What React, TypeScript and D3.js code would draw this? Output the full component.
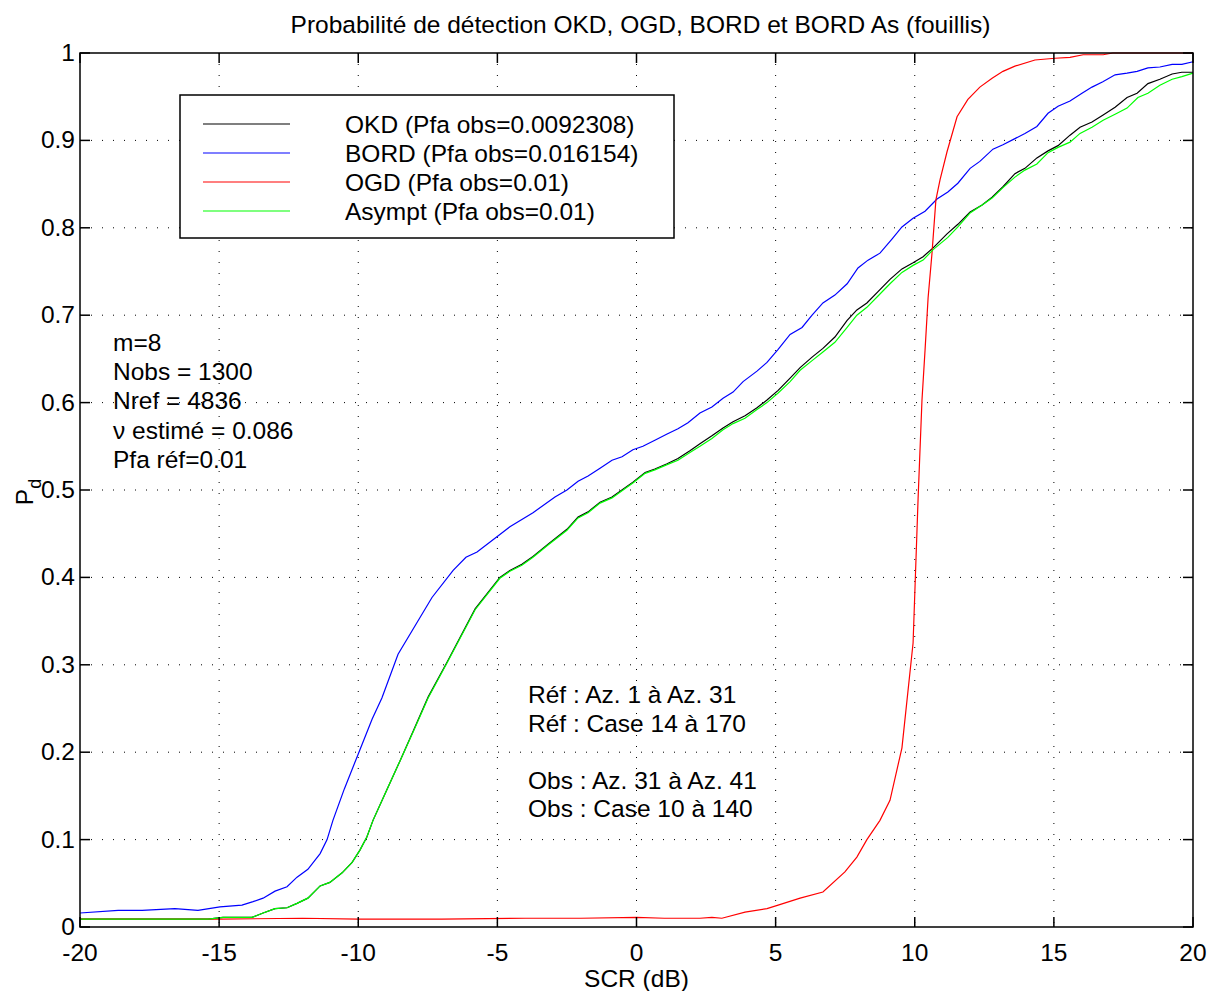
import React from "react";
import * as d3 from "d3";

const title = "Probabilité de détection OKD, OGD, BORD et BORD As (fouillis)";
const xTicks = [-20, -15, -10, -5, 0, 5, 10, 15, 20];
const yTicks = [0, 0.1, 0.2, 0.3, 0.4, 0.5, 0.6, 0.7, 0.8, 0.9, 1];

const bord: [number, number][] = [
  [-20, 0.016], [-18.63, 0.019], [-17.77, 0.019], [-16.59, 0.021], [-15.76, 0.019], [-14.97, 0.023],
  [-14.18, 0.025], [-13.78, 0.029], [-13.42, 0.033], [-12.99, 0.041], [-12.56, 0.046], [-12.2, 0.057],
  [-11.81, 0.066], [-11.37, 0.084], [-11.12, 0.1], [-10.91, 0.122], [-10.5, 0.158], [-10.0, 0.198],
  [-9.5, 0.238], [-9.15, 0.262], [-8.57, 0.312], [-7.35, 0.377], [-6.59, 0.408], [-6.13, 0.423],
  [-5.73, 0.429], [-4.91, 0.449], [-4.55, 0.458], [-3.72, 0.474], [-2.93, 0.492], [-2.5, 0.5],
  [-2.1, 0.51], [-1.74, 0.516], [-1.31, 0.525], [-0.88, 0.534], [-0.52, 0.538], [-0.13, 0.546],
  [0.23, 0.55], [0.66, 0.557], [1.1, 0.564], [1.49, 0.57], [1.85, 0.577], [2.28, 0.588], [2.71, 0.595],
  [3.11, 0.605], [3.47, 0.612], [3.83, 0.624], [4.33, 0.636], [4.69, 0.646], [5.09, 0.661], [5.52, 0.678],
  [5.95, 0.686], [6.31, 0.7], [6.7, 0.714], [7.13, 0.723], [7.57, 0.736], [7.96, 0.754], [8.32, 0.763],
  [8.75, 0.771], [9.18, 0.787], [9.54, 0.801], [9.94, 0.811], [10.37, 0.819], [10.8, 0.833], [11.19, 0.841],
  [11.55, 0.851], [11.99, 0.868], [12.34, 0.876], [12.81, 0.89], [13.17, 0.895], [13.6, 0.902],
  [13.96, 0.908], [14.39, 0.916], [14.79, 0.931], [15.15, 0.939], [15.58, 0.945], [16.01, 0.954],
  [16.37, 0.961], [16.76, 0.967], [17.2, 0.975], [17.63, 0.977], [17.99, 0.979], [18.38, 0.983],
  [18.81, 0.984], [19.25, 0.987], [19.6, 0.987], [20, 0.99],
];

const asympt: [number, number][] = [
  [-20, 0.009], [-15.4, 0.009], [-14.86, 0.011], [-13.82, 0.011], [-13.42, 0.016], [-12.99, 0.021],
  [-12.56, 0.022], [-12.2, 0.027], [-11.81, 0.033], [-11.37, 0.047], [-11.02, 0.051], [-10.58, 0.062],
  [-10.22, 0.074], [-9.94, 0.088], [-9.69, 0.103], [-9.47, 0.122], [-9.0, 0.155], [-8.5, 0.19],
  [-8.0, 0.225], [-7.49, 0.262], [-6.81, 0.302], [-5.8, 0.363], [-4.91, 0.399], [-4.55, 0.407],
  [-4.12, 0.414], [-3.72, 0.423], [-3.18, 0.437], [-2.5, 0.454], [-2.1, 0.468], [-1.74, 0.474],
  [-1.31, 0.485], [-0.88, 0.491], [-0.13, 0.508], [0.31, 0.519], [0.66, 0.523], [1.1, 0.529],
  [1.49, 0.534], [1.92, 0.543], [2.28, 0.55], [2.71, 0.559], [3.11, 0.569], [3.47, 0.576], [3.9, 0.582],
  [4.33, 0.592], [4.69, 0.6], [5.09, 0.611], [5.52, 0.624], [5.88, 0.637], [6.31, 0.648], [6.7, 0.658],
  [7.13, 0.669], [7.57, 0.686], [7.92, 0.7], [8.28, 0.709], [8.68, 0.722], [9.11, 0.736], [9.54, 0.749],
  [9.94, 0.757], [10.3, 0.763], [10.66, 0.775], [11.19, 0.789], [11.55, 0.801], [11.99, 0.817],
  [12.42, 0.826], [12.78, 0.834], [13.17, 0.846], [13.6, 0.858], [13.96, 0.866], [14.39, 0.873],
  [14.79, 0.886], [15.15, 0.892], [15.58, 0.898], [15.94, 0.908], [16.37, 0.915], [16.77, 0.923],
  [17.2, 0.93], [17.63, 0.937], [18.02, 0.949], [18.38, 0.954], [18.81, 0.963], [19.25, 0.97],
  [19.6, 0.973], [20, 0.977],
];

const okd: [number, number][] = [
  [-20, 0.009], [-15.4, 0.009], [-14.86, 0.011], [-13.82, 0.011], [-13.42, 0.016], [-12.99, 0.021],
  [-12.56, 0.022], [-12.2, 0.027], [-11.81, 0.033], [-11.37, 0.047], [-11.02, 0.051], [-10.58, 0.062],
  [-10.22, 0.074], [-9.94, 0.088], [-9.69, 0.103], [-9.47, 0.122], [-9.0, 0.155], [-8.5, 0.19],
  [-8.0, 0.226], [-7.49, 0.263], [-6.81, 0.303], [-5.8, 0.364], [-4.91, 0.4], [-4.55, 0.408],
  [-4.12, 0.415], [-3.72, 0.424], [-3.18, 0.438], [-2.5, 0.455], [-2.1, 0.469], [-1.74, 0.475],
  [-1.31, 0.486], [-0.88, 0.492], [-0.13, 0.509], [0.31, 0.52], [0.66, 0.524], [1.1, 0.53],
  [1.49, 0.536], [1.92, 0.545], [2.28, 0.553], [2.71, 0.562], [3.11, 0.571], [3.47, 0.578], [3.9, 0.585],
  [4.33, 0.594], [4.69, 0.603], [5.09, 0.614], [5.52, 0.628], [5.88, 0.64], [6.31, 0.652], [6.7, 0.662],
  [7.13, 0.675], [7.57, 0.694], [7.92, 0.706], [8.28, 0.714], [8.68, 0.727], [9.11, 0.741], [9.54, 0.753],
  [9.94, 0.76], [10.3, 0.767], [10.66, 0.777], [11.16, 0.793], [11.55, 0.804], [11.99, 0.818],
  [12.42, 0.826], [12.78, 0.835], [13.17, 0.847], [13.6, 0.862], [13.96, 0.868], [14.39, 0.88],
  [14.79, 0.888], [15.15, 0.894], [15.58, 0.906], [15.94, 0.915], [16.37, 0.921], [16.77, 0.929],
  [17.2, 0.938], [17.63, 0.949], [17.99, 0.954], [18.38, 0.965], [18.81, 0.97], [19.25, 0.976],
  [19.6, 0.978], [20, 0.978],
];

const ogd: [number, number][] = [
  [-20, 0.009], [-15, 0.009], [-12, 0.01], [-10, 0.009], [-7, 0.009], [-4, 0.01], [-2, 0.01],
  [0, 0.011], [1, 0.01], [2.28, 0.01], [2.71, 0.011], [3.07, 0.01], [3.9, 0.017], [4.69, 0.021],
  [5.09, 0.025], [5.88, 0.033], [6.7, 0.04], [7.49, 0.063], [7.92, 0.08], [8.28, 0.1], [8.75, 0.122],
  [9.11, 0.145], [9.54, 0.205], [9.94, 0.325], [10.12, 0.49], [10.26, 0.603], [10.37, 0.66],
  [10.48, 0.72], [10.62, 0.771], [10.76, 0.832], [10.91, 0.855], [11.16, 0.887], [11.52, 0.927],
  [11.91, 0.947], [12.34, 0.961], [12.78, 0.971], [13.17, 0.979], [13.6, 0.985], [14.32, 0.992],
  [15.04, 0.994], [15.58, 0.995], [16.05, 0.998], [16.77, 0.998], [17.12, 1.0], [20, 1.0],
];

const legendLabels = [
  "OKD (Pfa obs=0.0092308)",
  "BORD (Pfa obs=0.016154)",
  "OGD (Pfa obs=0.01)",
  "Asympt (Pfa obs=0.01)",
];
const seriesColors = ["#000000", "#0000ff", "#ff0000", "#00ff00"];
const infoLines = ["m=8", "Nobs = 1300", "Nref = 4836", "ν estimé = 0.086", "Pfa réf=0.01"];
const refLines = ["Réf : Az. 1 à Az. 31", "Réf : Case 14 à 170", "", "Obs : Az. 31 à Az. 41", "Obs : Case 10 à 140"];

const W = 1210, H = 991;
const L = 80, R = 1193, T = 53, B = 927;
const FONT = "'Liberation Sans', Arial, Helvetica, sans-serif";
const FS = 24.5;

export default function App() {
  const x = d3.scaleLinear().domain([-20, 20]).range([L, R]);
  const y = d3.scaleLinear().domain([0, 1]).range([B, T]);
  const line = d3.line<[number, number]>().x((d) => x(d[0])).y((d) => y(d[1]));
  const series = [okd, bord, ogd, asympt];
  const tickLen = 10;
  return (
    <svg width={W} height={H} style={{ position: "absolute", left: 0, top: 0, background: "#fff" }} fontFamily={FONT}>
      <rect x={0} y={0} width={W} height={H} fill="#fff" />
      {xTicks.slice(1, -1).map((t) => (
        <line key={"gx" + t} x1={x(t)} x2={x(t)} y1={T} y2={B} stroke="#000" strokeWidth={1} strokeDasharray="1,10" />
      ))}
      {yTicks.slice(1, -1).map((t) => (
        <line key={"gy" + t} x1={L} x2={R} y1={y(t)} y2={y(t)} stroke="#000" strokeWidth={1} strokeDasharray="1,10" />
      ))}
      {series.map((s, i) => (
        <path key={"s" + i} d={line(s) || ""} fill="none" stroke={seriesColors[i]} strokeWidth={1.2} />
      ))}
      <rect x={L} y={T} width={R - L} height={B - T} fill="none" stroke="#000" strokeWidth={1.5} />
      {xTicks.map((t) => (
        <g key={"tx" + t}>
          <line x1={x(t)} x2={x(t)} y1={B} y2={B - tickLen} stroke="#000" strokeWidth={1.5} />
          <line x1={x(t)} x2={x(t)} y1={T} y2={T + tickLen} stroke="#000" strokeWidth={1.5} />
          <text x={x(t)} y={961} fontSize={FS} textAnchor="middle">{t}</text>
        </g>
      ))}
      {yTicks.map((t) => (
        <g key={"ty" + t}>
          <line x1={L} x2={L + tickLen} y1={y(t)} y2={y(t)} stroke="#000" strokeWidth={1.5} />
          <line x1={R} x2={R - tickLen} y1={y(t)} y2={y(t)} stroke="#000" strokeWidth={1.5} />
          <text x={L - 5} y={y(t) + 8} fontSize={FS} textAnchor="end">{d3.format("~g")(t)}</text>
        </g>
      ))}
      <text x={(L + R) / 2 + 4} y={33} fontSize={FS} textAnchor="middle">{title}</text>
      <text x={(L + R) / 2} y={987} fontSize={FS} textAnchor="middle">SCR (dB)</text>
      <text transform={`translate(33,${(T + B) / 2 + 2}) rotate(-90)`} fontSize={FS} textAnchor="middle">
        P<tspan fontSize={18} dy={8}>d</tspan>
      </text>
      <rect x={180} y={95} width={494} height={143} fill="#fff" stroke="#000" strokeWidth={1.5} />
      {legendLabels.map((lab, i) => (
        <g key={"lg" + i}>
          <line x1={203} x2={290} y1={124 + i * 29} y2={124 + i * 29} stroke={seriesColors[i]} strokeWidth={1.2} />
          <text x={345} y={124 + i * 29 + 9} fontSize={FS}>{lab}</text>
        </g>
      ))}
      {infoLines.map((s, i) => (
        <text key={"in" + i} x={113} y={351 + i * 29.2} fontSize={FS}>{s}</text>
      ))}
      {refLines.map((s, i) => (
        <text key={"rf" + i} x={528} y={703 + i * 28.6} fontSize={FS}>{s}</text>
      ))}
    </svg>
  );
}
